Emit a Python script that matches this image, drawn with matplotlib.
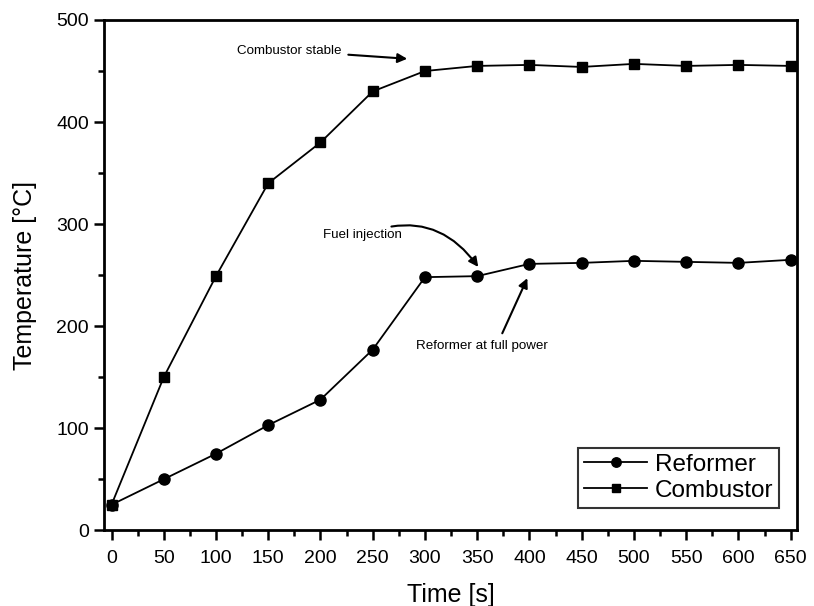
import matplotlib.pyplot as plt
from matplotlib.ticker import MultipleLocator

plt.rcParams['font.family'] = ['Liberation Sans', 'DejaVu Sans']

# data
time_s = [0, 50, 100, 150, 200, 250, 300, 350, 400, 450, 500, 550, 600, 650]
reformer = [25, 50, 75, 103, 128, 177, 248, 249, 261, 262, 264, 263, 262, 265]
combustor = [25, 150, 249, 340, 380, 430, 450, 455, 456, 454, 457, 455, 456, 455]

fig = plt.figure(figsize=(8.14, 6.06), dpi=100)
ax = fig.add_axes([0.128, 0.125, 0.851, 0.842])

ax.plot(time_s, reformer, color='black', lw=1.3, marker='o', markersize=8, label='Reformer')
ax.plot(time_s, combustor, color='black', lw=1.3, marker='s', markersize=7, label='Combustor')

ax.set_xlim(-7, 656)
ax.set_ylim(0, 500)
ax.xaxis.set_major_locator(MultipleLocator(50))
ax.xaxis.set_minor_locator(MultipleLocator(25))
ax.yaxis.set_major_locator(MultipleLocator(100))
ax.yaxis.set_minor_locator(MultipleLocator(50))
ax.tick_params(which='major', direction='out', length=7, width=1.8, labelsize=14)
ax.tick_params(which='minor', direction='out', length=4, width=1.8)
ax.tick_params(axis='x', which='major', pad=7)
ax.tick_params(axis='y', which='major', pad=4)
for sp in ax.spines.values():
    sp.set_linewidth(2)

ax.set_xlabel('Time [s]', fontsize=18, labelpad=12)
ax.set_ylabel('Temperature [°C]', fontsize=18, labelpad=14)

# annotations
ax.annotate('Combustor stable', xy=(283, 462), xytext=(120, 470),
            fontsize=9.6, va='center', ha='left',
            arrowprops=dict(arrowstyle='-|>', color='black', lw=1.5,
                            shrinkA=3, shrinkB=0, mutation_scale=14))
ax.annotate('Fuel injection', xy=(351, 258), xytext=(278, 289),
            fontsize=9.6, va='center', ha='right',
            arrowprops=dict(arrowstyle='-|>', color='black', lw=1.5,
                            shrinkA=0, shrinkB=0, mutation_scale=14,
                            connectionstyle='arc3,rad=-0.4'))
ax.annotate('', xy=(398, 247), xytext=(374, 193),
            arrowprops=dict(arrowstyle='-|>', color='black', lw=1.5,
                            shrinkA=0, shrinkB=0, mutation_scale=14))
ax.text(355, 181, 'Reformer at full power', fontsize=9.6, ha='center', va='center')

leg = ax.legend(loc='lower right', bbox_to_anchor=(0.985, 0.03), fontsize=17.5,
                frameon=True, fancybox=False, edgecolor='black',
                handlelength=2.6, borderpad=0.25, labelspacing=0.15, handletextpad=0.3,
                markerscale=0.85, borderaxespad=0.3)
leg.get_frame().set_linewidth(1.5)

fig.savefig('out.png', dpi=100)
